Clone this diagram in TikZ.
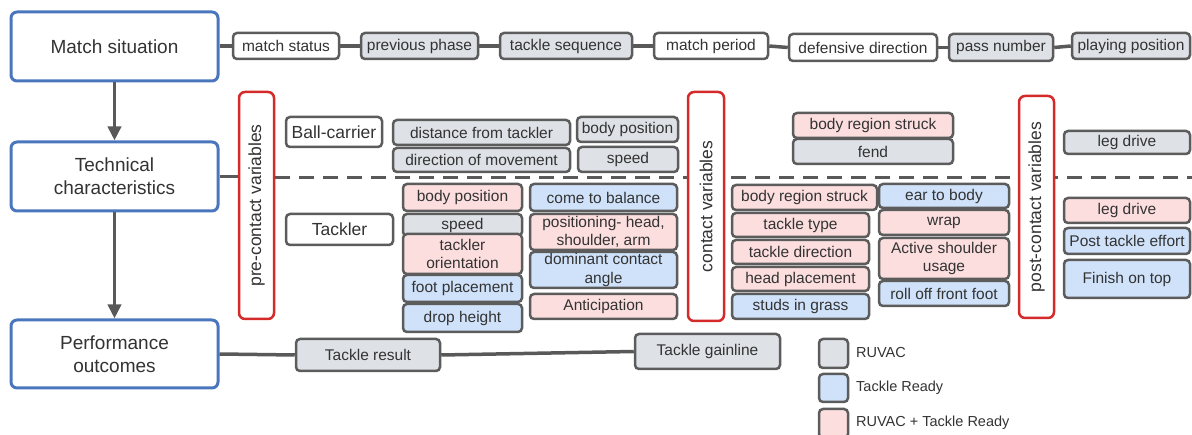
\documentclass[tikz,border=0pt]{standalone}
\usepackage{fontspec}
\setmainfont{Liberation Sans}
\usetikzlibrary{arrows.meta,backgrounds}
\definecolor{bd}{HTML}{5C5C5C}
\definecolor{tx}{HTML}{333333}
\definecolor{gr}{HTML}{DEE1E6}
\definecolor{bl}{HTML}{CFE2FA}
\definecolor{pk}{HTML}{FCDEDF}
\definecolor{mb}{HTML}{4A76BE}
\definecolor{rd}{HTML}{D42A2A}
\definecolor{ln}{HTML}{595959}
\newcommand{\B}[7]{\node[#2, minimum width={(#5-#3)*1pt}, minimum height={(#6-#4)*1pt}] (#1) at ({(#3+#5)/2},{(#4+#6)/2}) {#7};}
\tikzset{
  sbox/.style={draw=bd, line width=2.5pt, rounded corners=4pt, text=tx, inner sep=0pt, align=center,
    font=\fontsize{15.5}{18.5}\selectfont},
  boxg/.style={sbox, fill=gr},
  boxb/.style={sbox, fill=bl},
  boxp/.style={sbox, fill=pk},
  boxw/.style={sbox, fill=white},
  boxl/.style={boxw, font=\fontsize{17.5}{21}\selectfont},
  mbox/.style={draw=mb, line width=3pt, rounded corners=6pt, fill=white, text=tx, inner sep=0pt, align=center,
    font=\fontsize{19}{23}\selectfont},
  rbox/.style={draw=rd, line width=2.5pt, rounded corners=6pt, fill=white, inner sep=0pt},
  vlab/.style={rotate=90, text=tx, inner sep=0pt, font=\fontsize{17.5}{21}\selectfont},
  conn/.style={draw=ln, line width=3.5pt},
  arr/.style={conn, -{Triangle[length=14pt,width=13pt]}},
  sep/.style={draw=ln, line width=3pt, dash pattern=on 15pt off 9pt},
  legt/.style={anchor=west, text=tx, inner sep=0pt, font=\fontsize{14.5}{17}\selectfont}
}
\begin{document}
\begin{tikzpicture}[x=1pt,y=-1pt]
\useasboundingbox (0,0) rectangle (1192,435);
% main boxes
\B{match}{mbox}{11}{12}{218}{81}{Match situation}
\B{tech}{mbox}{11}{142}{218}{211}{Technical\\characteristics}
\B{perf}{mbox}{11}{320}{218}{388}{Performance\\outcomes}
% top row
\B{ms}{boxw}{233}{33}{339}{59}{match status}
\B{pp}{boxg}{361}{33}{478}{59}{previous phase}
\B{ts}{boxg}{500}{33}{632}{59}{tackle sequence}
\B{mp}{boxw}{654}{33}{768}{59}{match period}
\B{dd}{boxw}{789}{34}{937}{61}{defensive direction}
\B{pn}{boxg}{949}{34}{1053}{61}{pass number}
\B{pl}{boxg}{1072}{33}{1190}{59}{playing position}
% red phase boxes
\B{pre}{rbox}{239}{92}{274}{319}{}
\B{con}{rbox}{688}{92}{724}{321}{}
\B{post}{rbox}{1019}{96}{1054}{318}{}
\node[vlab] (pretxt) at (pre.center) {pre-contact variables};
\node[vlab] (contxt) at (con.center) {contact variables};
\node[vlab] (posttxt) at (post.center) {post-contact variables};
% ball-carrier
\B{bc}{boxl}{286}{117}{382}{147}{Ball-carrier}
\B{dft}{boxg}{393}{120}{570}{145}{distance from tackler}
\B{dom}{boxg}{393}{148}{570}{172}{direction of movement}
\B{bpb}{boxg}{577}{117}{678}{142}{body position}
\B{spb}{boxg}{578}{147}{678}{172}{speed}
\B{brsa}{boxp}{793}{113}{953}{138}{body region struck}
\B{fend}{boxg}{793}{139}{953}{164}{fend}
\B{lda}{boxg}{1064}{131}{1190}{154}{leg drive}
% tackler
\B{tk}{boxl}{286}{214}{393}{245}{Tackler}
\B{bpt}{boxp}{403}{184}{522}{211}{body position}
\B{spt}{boxg}{403}{214}{522}{236}{speed}
\B{tor}{boxp}{403}{234}{522}{274}{tackler\\orientation}
\B{fp}{boxb}{403}{275}{522}{302}{foot placement}
\B{dh}{boxb}{403}{304}{522}{332}{drop height}
\B{ctb}{boxb}{530}{184}{677}{211}{come to balance}
\B{pos}{boxp}{530}{214}{677}{250}{positioning- head,\\shoulder, arm}
\B{dca}{boxb}{530}{252}{677}{288}{dominant contact\\angle}
\B{ant}{boxp}{530}{294}{677}{319}{Anticipation}
\B{brsb}{boxp}{732}{185}{877}{210}{body region struck}
\B{tt}{boxp}{732}{213}{869}{237}{tackle type}
\B{td}{boxp}{732}{240}{869}{264}{tackle direction}
\B{hp}{boxp}{732}{267}{869}{291}{head placement}
\B{sig}{boxb}{732}{294}{869}{319}{studs in grass}
\B{etb}{boxb}{879}{184}{1009}{208}{ear to body}
\B{wrap}{boxp}{879}{210}{1009}{235}{wrap}
\B{asu}{boxp}{879}{238}{1009}{279}{Active shoulder\\usage}
\B{roff}{boxb}{879}{281}{1009}{306}{roll off front foot}
\B{ldb}{boxp}{1064}{198}{1190}{223}{leg drive}
\B{pte}{boxb}{1064}{228}{1190}{254}{Post tackle effort}
\B{fot}{boxb}{1064}{260}{1190}{298}{Finish on top}
% performance
\B{tr}{boxg}{296}{339}{440}{371}{Tackle result}
\B{tg}{boxg}{635}{334}{780}{369}{Tackle gainline}
% legend
\B{lga}{boxg}{819}{339}{848}{368}{}
\B{lgb}{boxb}{819}{374}{848}{402}{}
\B{lgc}{boxp}{819}{409}{848}{438}{}
\node[legt] (lta) at (856,353) {RUVAC};
\node[legt] (ltb) at (856,388) {Tackle Ready};
\node[legt] (ltc) at (856,423) {RUVAC + Tackle Ready};
\coordinate (dashend) at (1192,178);
% connectors
\begin{pgfonlayer}{background}
\draw[sep] (pre.east |- dashend) -- (dashend);
\end{pgfonlayer}
\draw[arr] (match) -- (tech);
\draw[arr] (tech) -- (perf);
\draw[conn] (match.east |- ms.west) -- (ms.west);
\draw[conn] (ms.east) -- (pp.west);
\draw[conn] (pp.east) -- (ts.west);
\draw[conn] (ts.east) -- (mp.west);
\draw[conn] (mp.east) -- (dd.west);
\draw[conn] (dd.east) -- (pn.west);
\draw[conn] (pn.east) -- (pl.west);
\draw[conn] (tech.east) -- (pre.west |- tech.east);
\draw[conn] (perf.east) -- (tr.west);
\draw[conn] (tr.east) -- (tg.west);
\end{tikzpicture}
\end{document}
